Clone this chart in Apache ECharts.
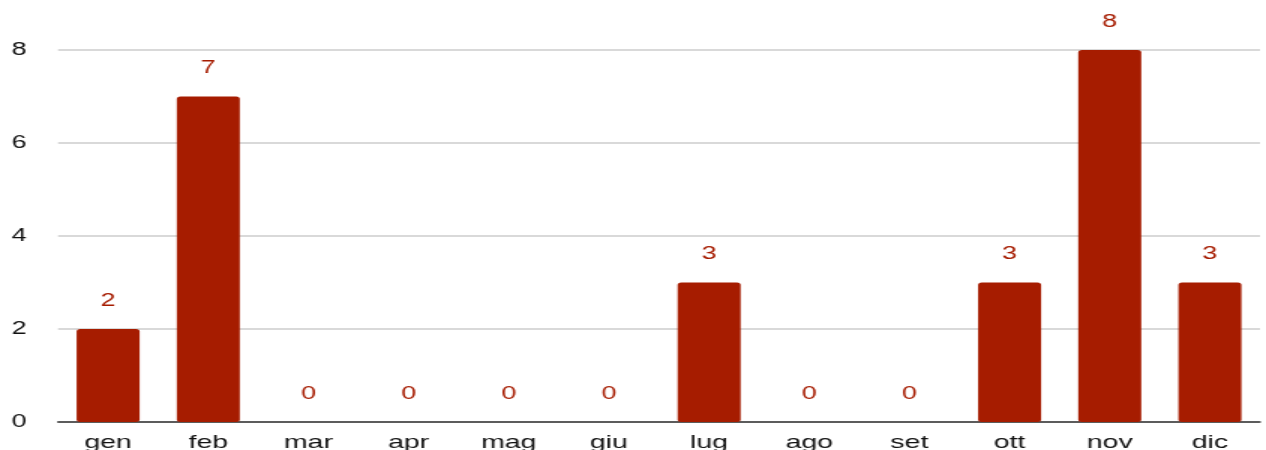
<!DOCTYPE html>
<html>
<head>
<meta charset="utf-8">
<script src="https://cdn.jsdelivr.net/npm/echarts@6/dist/echarts.min.js"></script>
<style>
  html, body { margin: 0; padding: 0; background: #fff; overflow: hidden; }
  /* il riferimento è stirato in orizzontale: disegno a 844px e allargo x1.5 */
  #chart {
    width: 844px;
    height: 450px;
    transform: scaleX(1.5);
    transform-origin: 0 0;
  }
</style>
</head>
<body>
<div id="chart"></div>
<script>
// mesi e conteggi
var mesi = ["gen", "feb", "mar", "apr", "mag", "giu", "lug", "ago", "set", "ott", "nov", "dic"];
var valori = [2, 7, 0, 0, 0, 0, 3, 0, 0, 3, 8, 3];

var myChart = echarts.init(document.getElementById("chart"), null, { width: 844, height: 450 });
var options = {
  animation: false,
  textStyle: { fontFamily: "Liberation Sans, Arial, sans-serif" },
  // le etichette in basso escono dal riquadro come nell'originale
  grid: { top: 50, left: 38.7, right: 4, bottom: 28, containLabel: false, outerBoundsMode: "none" },
  xAxis: {
    type: "category",
    data: mesi,
    axisTick: { show: false },
    axisLine: { lineStyle: { color: "#333", width: 1.5 } },
    axisLabel: { color: "#111", fontSize: 19, margin: 11 }
  },
  yAxis: {
    type: "value",
    min: 0,
    max: 8,
    interval: 2,
    axisLabel: { color: "#111", fontSize: 18, margin: 21, align: "right" },
    splitLine: { lineStyle: { color: "#cccccc", width: 1.5 } }
  },
  series: [
    {
      type: "bar",
      data: valori,
      barWidth: 42,
      itemStyle: { color: "#a61c00", borderRadius: 2.5 },
      label: {
        show: true,
        position: "top",
        distance: 19,
        color: "#a61c00",
        fontSize: 18
      }
    }
  ]
};
myChart.setOption(options);
</script>
</body>
</html>
